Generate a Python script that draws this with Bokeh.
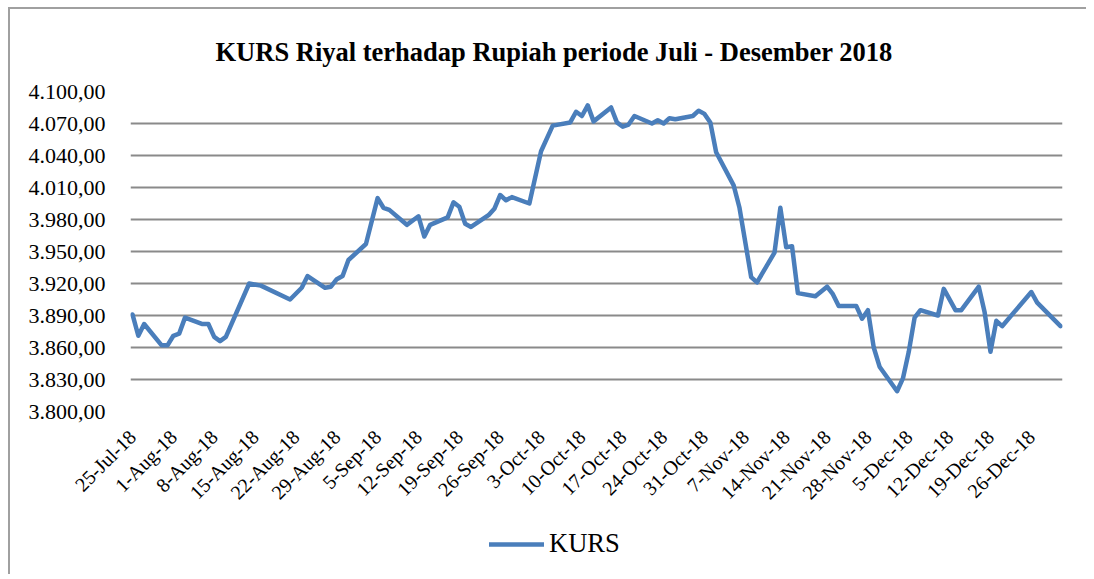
import math
import pandas as pd
from bokeh.plotting import figure
from bokeh.layouts import column
from bokeh.models import FixedTicker, Legend, LegendItem, ColumnDataSource
from bokeh.embed import file_html
from bokeh.resources import INLINE

# ---- data ----
dates = [
    "2018-07-25", "2018-07-26", "2018-07-27", "2018-07-30", "2018-07-31",
    "2018-08-01", "2018-08-02", "2018-08-03", "2018-08-06", "2018-08-07",
    "2018-08-08", "2018-08-09", "2018-08-10", "2018-08-14", "2018-08-16",
    "2018-08-21", "2018-08-23", "2018-08-24", "2018-08-27", "2018-08-28",
    "2018-08-29", "2018-08-30", "2018-08-31", "2018-09-03", "2018-09-05",
    "2018-09-06", "2018-09-07", "2018-09-10", "2018-09-12", "2018-09-13",
    "2018-09-14", "2018-09-17", "2018-09-18", "2018-09-19", "2018-09-20",
    "2018-09-21", "2018-09-24", "2018-09-25", "2018-09-26", "2018-09-27",
    "2018-09-28", "2018-10-01", "2018-10-03", "2018-10-05", "2018-10-08",
    "2018-10-09", "2018-10-10", "2018-10-11", "2018-10-12", "2018-10-15",
    "2018-10-16", "2018-10-17", "2018-10-18", "2018-10-19", "2018-10-22",
    "2018-10-23", "2018-10-24", "2018-10-25", "2018-10-26", "2018-10-29",
    "2018-10-30", "2018-10-31", "2018-11-01", "2018-11-02", "2018-11-05",
    "2018-11-06", "2018-11-08", "2018-11-09", "2018-11-12", "2018-11-13",
    "2018-11-14", "2018-11-15", "2018-11-16", "2018-11-19", "2018-11-21",
    "2018-11-22", "2018-11-23", "2018-11-26", "2018-11-27", "2018-11-28",
    "2018-11-29", "2018-11-30", "2018-12-03", "2018-12-04", "2018-12-05",
    "2018-12-06", "2018-12-07", "2018-12-10", "2018-12-11", "2018-12-13",
    "2018-12-14", "2018-12-17", "2018-12-18", "2018-12-19", "2018-12-20",
    "2018-12-21", "2018-12-26", "2018-12-27", "2018-12-31",
]
kurs = [
    3891, 3871, 3882, 3862, 3862,
    3871, 3873, 3888, 3882, 3882,
    3870, 3866, 3870, 3920, 3918,
    3905, 3916, 3927, 3916, 3917,
    3924, 3927, 3942, 3957, 4000,
    3991, 3989, 3975, 3983, 3964,
    3975, 3982, 3996, 3992, 3976,
    3973, 3984, 3990, 4003, 3998,
    4001, 3995, 4044, 4068, 4071,
    4081, 4077, 4087, 4072, 4085,
    4071, 4067, 4069, 4077, 4070,
    4073, 4070, 4075, 4074, 4077,
    4082, 4079, 4071, 4043, 4012,
    3991, 3926, 3921, 3949, 3991,
    3954, 3955, 3911, 3908, 3917,
    3910, 3899, 3899, 3887, 3895,
    3860, 3842, 3819, 3831, 3856,
    3888, 3895, 3890, 3915, 3895,
    3895, 3917, 3893, 3856, 3885,
    3880, 3912, 3902, 3880,
]
x_tick_labels = [
    "25-Jul-18", "1-Aug-18", "8-Aug-18", "15-Aug-18", "22-Aug-18", "29-Aug-18",
    "5-Sep-18", "12-Sep-18", "19-Sep-18", "26-Sep-18", "3-Oct-18", "10-Oct-18",
    "17-Oct-18", "24-Oct-18", "31-Oct-18", "7-Nov-18", "14-Nov-18", "21-Nov-18",
    "28-Nov-18", "5-Dec-18", "12-Dec-18", "19-Dec-18", "26-Dec-18",
]
y_ticks = [3800, 3830, 3860, 3890, 3920, 3950, 3980, 4010, 4040, 4070, 4100]
y_tick_labels = ["3.800,00", "3.830,00", "3.860,00", "3.890,00", "3.920,00",
                 "3.950,00", "3.980,00", "4.010,00", "4.040,00", "4.070,00",
                 "4.100,00"]
title_text = "KURS Riyal terhadap Rupiah periode Juli - Desember 2018"
series_name = "KURS"

# ---- build ----
start = pd.Timestamp(dates[0])
xs = [(pd.Timestamp(d) - start).days for d in dates]
x_ticks = [(pd.to_datetime(t, format="%d-%b-%y") - start).days for t in x_tick_labels]
end_day = xs[-1]

src = ColumnDataSource(dict(x=xs, y=kurs))

FONT = "Liberation Serif"
LINE_COLOR = "#4A7EBB"
LINE_WIDTH = 4.5

p = figure(width=1076, height=502, output_backend="svg", toolbar_location=None,
           x_range=(-0.34, end_day + 0.34), y_range=(y_ticks[0], y_ticks[-1]),
           min_border_left=120, min_border_right=24, min_border_top=82,
           min_border_bottom=100)
p.frame_width = 932
p.frame_height = 320

p.title.text = title_text
p.title.text_font = FONT
p.title.text_font_size = "26.5px"
p.title.text_font_style = "bold"
p.title.text_color = "black"
p.title.align = "left"
p.title.offset = 85
p.title.standoff = 50

r = p.line("x", "y", source=src, line_color=LINE_COLOR, line_width=LINE_WIDTH,
           line_join="round", line_cap="round")

p.outline_line_color = None
p.xgrid.visible = False
p.ygrid.grid_line_color = "#8a8a8a"
p.ygrid.grid_line_width = 2

p.yaxis.ticker = FixedTicker(ticks=y_ticks)
p.yaxis.major_label_overrides = {t: l for t, l in zip(y_ticks, y_tick_labels)}
p.yaxis.axis_line_color = None
p.yaxis.major_tick_line_color = None
p.yaxis.minor_tick_line_color = None
p.yaxis.major_label_text_font = FONT
p.yaxis.major_label_text_font_size = "22px"
p.yaxis.major_label_text_color = "black"
p.yaxis.major_label_standoff = 19

p.xaxis.ticker = FixedTicker(ticks=x_ticks)
p.xaxis.major_label_overrides = {t: l for t, l in zip(x_ticks, x_tick_labels)}
p.xaxis.axis_line_color = None
p.xaxis.major_tick_line_color = None
p.xaxis.minor_tick_line_color = None
p.xaxis.major_label_text_font = FONT
p.xaxis.major_label_text_font_size = "20px"
p.xaxis.major_label_text_color = "black"
p.xaxis.major_label_orientation = math.pi / 4
p.xaxis.major_label_standoff = 16

# ---- legend strip below the chart ----
lg = figure(width=1076, height=60, output_backend="svg", toolbar_location=None,
            x_range=(0, 1), y_range=(0, 1), x_axis_type=None, y_axis_type=None,
            min_border_left=0, min_border_right=0, min_border_top=0,
            min_border_bottom=0)
lg.frame_width = 1076
lg.frame_height = 60
lg.outline_line_color = None
lg.xgrid.visible = False
lg.ygrid.grid_line_visible = False
# legend proxy: same style as the series, drawn outside this strip's ranges
lr = lg.line(x=[5, 6], y=[5, 6], line_color=LINE_COLOR, line_width=LINE_WIDTH,
             line_cap="round")

legend = Legend(items=[LegendItem(label=series_name, renderers=[lr])],
                orientation="horizontal", location=(479, 15))
legend.label_text_font = FONT
legend.label_text_font_size = "26.5px"
legend.label_text_color = "black"
legend.glyph_width = 55
legend.glyph_height = 24
legend.border_line_color = None
legend.background_fill_alpha = 0
legend.label_standoff = 5
legend.padding = 6
legend.margin = 0
lg.add_layout(legend, "center")

layout = column(p, lg, spacing=0,
                styles={"border-style": "solid none none solid",
                        "border-width": "2px",
                        "border-color": "#a0a0a0",
                        "border-right": "none", "border-bottom": "none",
                        "margin-top": "7px", "margin-left": "8px"})

open("out.html", "w").write(file_html(layout, INLINE))
